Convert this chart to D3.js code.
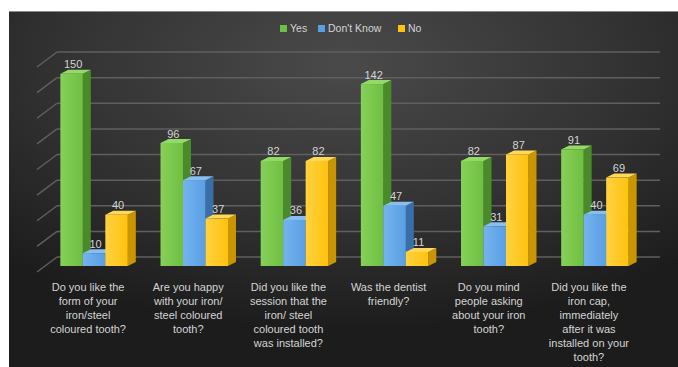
<!DOCTYPE html>
<html>
<head>
<meta charset="utf-8">
<script src="https://cdn.jsdelivr.net/npm/d3@7/dist/d3.min.js"></script>
<style>
  html, body { margin: 0; padding: 0; background: #fff; }
  svg { display: block; }
  text { font-family: "Liberation Sans", Arial, sans-serif; }
</style>
</head>
<body>
<svg id="chart" width="678" height="367"></svg>
<script>
// Survey questions (line breaks as shown under each group)
const categories = [
  "Do you like the\nform of your\niron/steel\ncoloured tooth?",
  "Are you happy\nwith your iron/\nsteel coloured\ntooth?",
  "Did you like the\nsession that the\niron/ steel\ncoloured tooth\nwas installed?",
  "Was the dentist\nfriendly?",
  "Do you mind\npeople asking\nabout your iron\ntooth?",
  "Did you like the\niron cap,\nimmediately\nafter it was\ninstalled on your\ntooth?"
];
const seriesNames = ["Yes", "Don't Know", "No"];
const yesValues = [150, 96, 82, 142, 82, 91];
const dontKnowValues = [10, 67, 36, 47, 31, 40];
const noValues = [40, 37, 82, 11, 87, 69];
const yTicks = [0, 20, 40, 60, 80, 100, 120, 140, 160];

const seriesValues = [yesValues, dontKnowValues, noValues];
const palette = [
  { front: "#6fbf42", light: "#86d158", side: "#4b8a2a", top: "#93da66" },
  { front: "#5a9fe4", light: "#74b3ee", side: "#3a6ea6", top: "#86bff0" },
  { front: "#ffc20e", light: "#ffd23f", side: "#c99500", top: "#ffd85a" }
];

const svg = d3.select("#chart");
const W = 678, H = 367;

// background panel with soft radial shading
const defs = svg.append("defs");
const bg = defs.append("radialGradient").attr("id", "bg")
  .attr("cx", "50%").attr("cy", "15%").attr("r", "75%");
bg.append("stop").attr("offset", "0%").attr("stop-color", "#4a4a4a");
bg.append("stop").attr("offset", "55%").attr("stop-color", "#333333");
bg.append("stop").attr("offset", "100%").attr("stop-color", "#1c1c1c");

palette.forEach((p, i) => {
  const g = defs.append("linearGradient").attr("id", "front" + i)
    .attr("x1", "0").attr("y1", "0").attr("x2", "1").attr("y2", "0");
  g.append("stop").attr("offset", "0%").attr("stop-color", p.light);
  g.append("stop").attr("offset", "100%").attr("stop-color", p.front);
});

svg.append("rect").attr("x", 9).attr("y", 11).attr("width", W - 9).attr("height", H - 11)
  .attr("fill", "url(#bg)");
svg.append("line").attr("x1", 9).attr("x2", W).attr("y1", 11.5).attr("y2", 11.5)
  .attr("stroke", "#8a8a8a").attr("stroke-width", 1);

// scales: y on the back wall, bars sit slightly in front of it
const y = d3.scaleLinear().domain([0, 160]).range([257, 52]);
const frontDrop = 9;          // bar front face offset below back wall
const depthX = 8, depthY = 4; // bar extrusion
const wallDX = -20, wallDY = 15; // floor/side wall direction

const x0 = d3.scaleBand().domain(d3.range(categories.length)).range([44, 645]).padding(0);
const x1 = d3.scaleBand().domain(d3.range(seriesNames.length))
  .range([0, x0.bandwidth()]).paddingInner(0).paddingOuter(0.727);

// gridlines: back wall + side wall diagonals
const grid = svg.append("g");
yTicks.forEach(t => {
  const yy = y(t);
  grid.append("line").attr("x1", 57).attr("x2", 660).attr("y1", yy).attr("y2", yy)
    .attr("stroke", "#5f5f5f").attr("stroke-width", 1.5);
  grid.append("line").attr("x1", 57).attr("x2", 57 + wallDX).attr("y1", yy).attr("y2", yy + wallDY)
    .attr("stroke", "#5f5f5f").attr("stroke-width", 1.5);
});

// bars
const bars = svg.append("g");
categories.forEach((c, ci) => {
  seriesValues.forEach((vals, si) => {
    const v = vals[ci];
    const p = palette[si];
    const xl = x0(ci) + x1(si);
    const w = x1.bandwidth();
    const yt = y(v) + frontDrop;
    const yb = y(0) + frontDrop;
    const g = bars.append("g");
    // side face
    g.append("path").attr("fill", p.side)
      .attr("d", `M${xl + w},${yt} L${xl + w + depthX},${yt - depthY} L${xl + w + depthX},${yb - depthY} L${xl + w},${yb} Z`);
    // top face
    g.append("path").attr("fill", p.top)
      .attr("d", `M${xl},${yt} L${xl + depthX},${yt - depthY} L${xl + w + depthX},${yt - depthY} L${xl + w},${yt} Z`);
    // front face
    g.append("rect").attr("x", xl).attr("y", yt).attr("width", w).attr("height", yb - yt)
      .attr("fill", `url(#front${si})`);
  });
});

// value labels
const labels = svg.append("g");
categories.forEach((c, ci) => {
  seriesValues.forEach((vals, si) => {
    const v = vals[ci];
    const xc = x0(ci) + x1(si) + x1.bandwidth() / 2 + 1.5;
    labels.append("text").attr("x", xc).attr("y", y(v) + frontDrop - 5.5)
      .attr("text-anchor", "middle").attr("font-size", 11).attr("fill", "#d4d4d4")
      .text(v);
  });
});

// category labels
const cat = svg.append("g");
categories.forEach((c, ci) => {
  const xc = x0(ci) + x0.bandwidth() / 2 - 6;
  const t = cat.append("text").attr("text-anchor", "middle")
    .attr("font-size", 11).attr("fill", "#d4d4d4");
  c.split("\n").forEach((line, li) => {
    t.append("tspan").attr("x", xc).attr("y", 291 + li * 14).text(line);
  });
});

// legend
const legendX = [280, 318, 398];
const legend = svg.append("g");
seriesNames.forEach((s, i) => {
  legend.append("rect").attr("x", legendX[i]).attr("y", 25).attr("width", 7).attr("height", 7)
    .attr("fill", palette[i].front);
  legend.append("text").attr("x", legendX[i] + 10).attr("y", 32)
    .attr("font-size", 10.5).attr("fill", "#d4d4d4").text(s);
});
</script>
</body>
</html>
